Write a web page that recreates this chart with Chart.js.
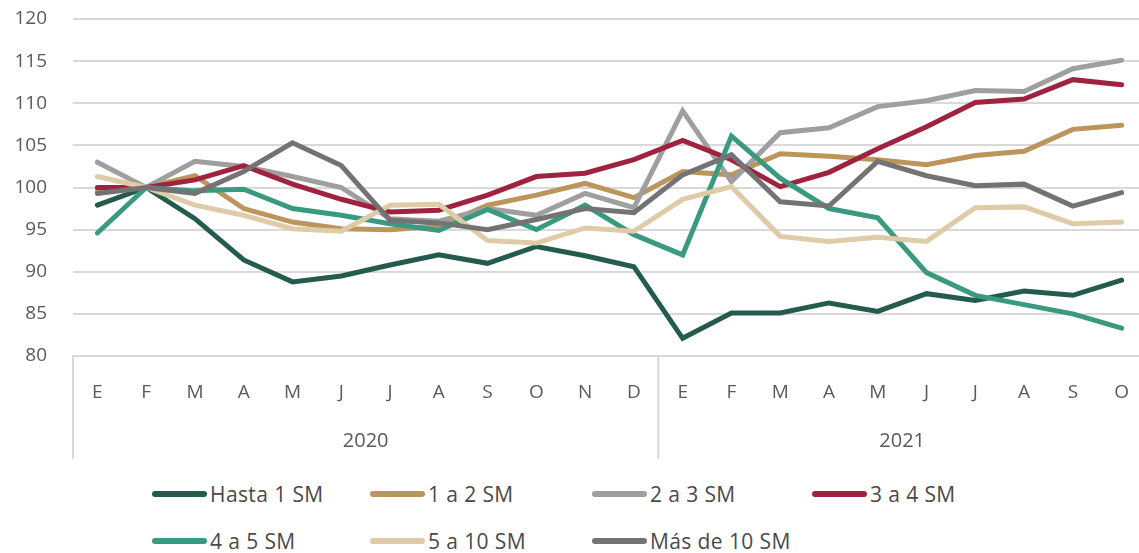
<!DOCTYPE html>
<html>
<head>
<meta charset="utf-8">
<script src="https://cdn.jsdelivr.net/npm/chart.js@4"></script>
<style>
  html, body { margin: 0; padding: 0; background: #fff; overflow: hidden; }
  body { width: 1139px; height: 553px; position: relative; font-family: "Open Sans", sans-serif; }
  #wrap { position: absolute; left: 0; top: 0; width: 1146px; height: 470px; }
  #legend { position: absolute; left: 152px; top: 478px; width: 900px; display: grid;
            grid-template-columns: 218px 222px 220px 220px; row-gap: 15px; }
  .item { display: flex; align-items: center; height: 32px; font-size: 21px; font-weight: 400;
          letter-spacing: 0.4px; color: #4a4a4a; white-space: nowrap; }
  .swatch { width: 55px; height: 6px; border-radius: 3px; margin-right: 3px; }
</style>
</head>
<body>
<div id="wrap"><canvas id="chart"></canvas></div>
<div id="legend"></div>
<script>
// months (E..D 2020, E..O 2021)
const months = ['E','F','M','A','M','J','J','A','S','O','N','D','E','F','M','A','M','J','J','A','S','O'];
const years = ['2020', '2021'];
const yearSpan = [12, 10];

const seriesNames = ['Hasta 1 SM', '1 a 2 SM', '2 a 3 SM', '3 a 4 SM', '4 a 5 SM', '5 a 10 SM', 'Más de 10 SM'];
const seriesColors = ['#235b4e', '#bc955c', '#9f9f9f', '#9f2241', '#3a9a80', '#e0cba8', '#737373'];

const hasta1 = [97.9, 100, 96.3, 91.4, 88.8, 89.5, 90.8, 92.0, 91.0, 93.0, 91.9, 90.6, 82.1, 85.1, 85.1, 86.3, 85.3, 87.4, 86.6, 87.7, 87.2, 89.0];
const de1a2 = [99.6, 100, 101.4, 97.5, 95.9, 95.1, 95.0, 95.4, 97.9, 99.1, 100.5, 98.8, 101.9, 101.5, 104.0, 103.7, 103.3, 102.7, 103.8, 104.3, 106.9, 107.4];
const de2a3 = [103.0, 100, 103.1, 102.5, 101.3, 100.0, 96.3, 96.0, 97.5, 96.7, 99.3, 97.6, 109.1, 100.7, 106.5, 107.1, 109.6, 110.3, 111.5, 111.4, 114.1, 115.1];
const de3a4 = [100.0, 100, 100.9, 102.6, 100.4, 98.6, 97.1, 97.3, 99.1, 101.3, 101.7, 103.3, 105.6, 103.3, 100.1, 101.8, 104.6, 107.2, 110.1, 110.5, 112.8, 112.2];
const de4a5 = [94.6, 100, 99.6, 99.8, 97.5, 96.7, 95.7, 94.9, 97.4, 95.0, 97.9, 94.4, 92.0, 106.1, 101.1, 97.5, 96.4, 89.9, 87.2, 86.1, 85.0, 83.3];
const de5a10 = [101.3, 100, 97.9, 96.7, 95.1, 94.8, 97.9, 98.0, 93.7, 93.4, 95.2, 94.8, 98.6, 100.1, 94.2, 93.6, 94.1, 93.6, 97.6, 97.7, 95.7, 95.9];
const mas10 = [99.3, 100, 99.3, 101.9, 105.3, 102.6, 96.1, 95.8, 95.0, 96.2, 97.5, 97.0, 101.5, 103.9, 98.3, 97.8, 103.1, 101.4, 100.2, 100.4, 97.8, 99.4];

const seriesData = [hasta1, de1a2, de2a3, de3a4, de4a5, de5a10, mas10];
const yTicks = [80, 85, 90, 95, 100, 105, 110, 115, 120];

const FONT = '"Open Sans", sans-serif';
const GRID = '#d9d9d9';
const TEXT = '#5a5a5a';

// year groups under the month labels
const yearGroups = {
  id: 'yearGroups',
  afterDraw(chart) {
    const ctx = chart.ctx;
    const x = chart.scales.x;
    const area = chart.chartArea;
    const half = (x.getPixelForValue(1) - x.getPixelForValue(0)) / 2;
    ctx.save();
    ctx.strokeStyle = GRID;
    ctx.lineWidth = 2;
    let start = 0;
    const edges = [x.getPixelForValue(0) - half];
    yearGroups.spans.forEach((n, k) => {
      const left = x.getPixelForValue(start) - half;
      const right = x.getPixelForValue(start + n - 1) + half;
      edges.push(right);
      ctx.fillStyle = TEXT;
      ctx.font = '20px ' + FONT;
      ctx.textAlign = 'center';
      ctx.textBaseline = 'middle';
      ctx.fillText(yearGroups.labels[k], (left + right) / 2, area.bottom + 85);
      start += n;
    });
    edges.forEach(px => {
      ctx.beginPath();
      ctx.moveTo(px, area.bottom);
      ctx.lineTo(px, area.bottom + 103);
      ctx.stroke();
    });
    ctx.restore();
  },
  spans: yearSpan,
  labels: years
};

new Chart(document.getElementById('chart'), {
  type: 'line',
  data: {
    labels: months,
    datasets: seriesNames.map((name, i) => ({
      label: name,
      data: seriesData[i],
      borderColor: seriesColors[i],
      backgroundColor: seriesColors[i],
      borderWidth: 5,
      borderCapStyle: 'round',
      borderJoinStyle: 'miter',
      pointRadius: 0,
      tension: 0,
      order: seriesNames.length - i
    }))
  },
  options: {
    responsive: true,
    maintainAspectRatio: false,
    animation: false,
    layout: { padding: 0 },
    plugins: { legend: { display: false }, tooltip: { enabled: false } },
    scales: {
      y: {
        min: 80, max: 120,
        afterBuildTicks: s => { s.ticks = yTicks.map(v => ({ value: v })); },
        grid: { color: GRID, lineWidth: 2, drawTicks: false, tickLength: 0 },
        border: { display: false },
        ticks: { color: TEXT, font: { family: FONT, size: 19 }, padding: 26 },
        afterFit: s => { s.width = 73; s.paddingTop = 19; s.paddingBottom = 0; }
      },
      x: {
        offset: true,
        grid: { display: false, offset: true },
        border: { display: true, color: GRID, width: 2 },
        ticks: { color: TEXT, font: { family: FONT, size: 19 }, padding: 17, maxRotation: 0, autoSkip: false },
        afterFit: s => { s.height = 114; }
      }
    }
  },
  plugins: [yearGroups]
});

// legend laid out as a grid, like the original
const legend = document.getElementById('legend');
seriesNames.forEach((name, i) => {
  const item = document.createElement('div');
  item.className = 'item';
  item.innerHTML = '<span class="swatch" style="background:' + seriesColors[i] + '"></span>' + name;
  legend.appendChild(item);
});
</script>
</body>
</html>
